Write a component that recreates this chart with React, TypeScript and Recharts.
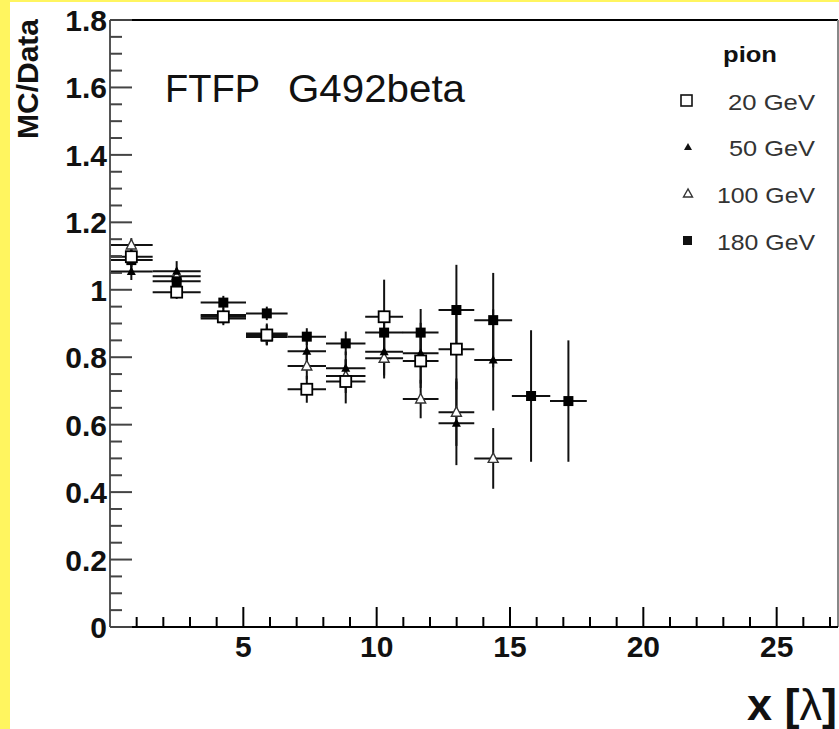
import React from 'react';
import { ScatterChart, Scatter, XAxis, YAxis, ErrorBar, ReferenceLine } from 'recharts';

// Bin centres (x in λ) and half widths
const binCenters = [0.8, 2.5, 4.25, 5.88, 7.38, 8.84, 10.28, 11.65, 12.99, 14.37, 15.79, 17.19];
const binHalfWidths = [0.8, 0.9, 0.85, 0.78, 0.72, 0.74, 0.71, 0.67, 0.67, 0.71, 0.72, 0.69];

// MC/Data ratios per beam energy (null = no point)
const pion20 = [1.098, 0.993, 0.92, 0.866, 0.705, 0.728, 0.92, 0.789, 0.824, null, null, null];
const pion20Err = [0.03, 0.02, 0.02, 0.03, 0.04, 0.065, 0.11, 0.08, 0.12, null, null, null];
const pion50 = [1.054, 1.055, 0.925, 0.87, 0.818, 0.767, 0.816, 0.812, 0.604, 0.792, null, null];
const pion50Err = [0.025, 0.03, 0.02, 0.03, 0.04, 0.05, 0.07, 0.09, 0.124, 0.15, null, null];
const pion100 = [1.133, 1.04, 0.915, 0.86, 0.774, 0.744, 0.797, 0.676, 0.637, 0.5, null, null];
const pion100Err = [0.02, 0.025, 0.02, 0.025, 0.04, 0.05, 0.06, 0.057, 0.1, 0.09, null, null];
const pion180 = [1.088, 1.025, 0.962, 0.93, 0.861, 0.841, 0.873, 0.873, 0.94, 0.91, 0.685, 0.67];
const pion180Err = [0.03, 0.02, 0.02, 0.02, 0.025, 0.035, 0.05, 0.07, 0.134, 0.14, 0.195, 0.18];

// Axis ticks
const xTicks = [1, 2, 3, 4, 5, 6, 7, 8, 9, 10, 11, 12, 13, 14, 15, 16, 17, 18, 19, 20, 21, 22, 23, 24, 25, 26, 27];
const yTicks = [0, 0.05, 0.1, 0.15, 0.2, 0.25, 0.3, 0.35, 0.4, 0.45, 0.5, 0.55, 0.6, 0.65, 0.7, 0.75, 0.8, 0.85, 0.9, 0.95, 1, 1.05, 1.1, 1.15, 1.2, 1.25, 1.3, 1.35, 1.4, 1.45, 1.5, 1.55, 1.6, 1.65, 1.7, 1.75, 1.8];
const xLabelTicks = [5, 10, 15, 20, 25];
const yLabelTicks = [0, 0.2, 0.4, 0.6, 0.8, 1, 1.2, 1.4, 1.6, 1.8];

const legendTitle = 'pion';
const legendLabels = ['20 GeV', '50 GeV', '100 GeV', '180 GeV'];

function build(values: (number | null)[], errs: (number | null)[]) {
  return binCenters
    .map((x, i) => ({ x, y: values[i], ex: binHalfWidths[i], ey: errs[i] }))
    .filter((d) => d.y !== null);
}

const s20 = build(pion20, pion20Err);
const s50 = build(pion50, pion50Err);
const s100 = build(pion100, pion100Err);
const s180 = build(pion180, pion180Err);

const FONT = '"Liberation Sans", Arial, Helvetica, sans-serif';

const openSquare = (p: any) => (
  <rect x={p.cx - 5.5} y={p.cy - 5.5} width={11} height={11} fill="#fff" stroke="#000" strokeWidth={1.8} />
);
const filledSquare = (p: any) => (
  <rect x={p.cx - 5} y={p.cy - 5} width={10} height={10} fill="#000" />
);
const filledTri = (p: any) => (
  <polygon points={`${p.cx},${p.cy - 5} ${p.cx - 4.5},${p.cy + 3.5} ${p.cx + 4.5},${p.cy + 3.5}`} fill="#000" />
);
const openTri = (p: any) => (
  <polygon
    points={`${p.cx},${p.cy - 5.5} ${p.cx - 5},${p.cy + 4} ${p.cx + 5},${p.cy + 4}`}
    fill="#fff"
    stroke="#333"
    strokeWidth={1.4}
  />
);

const XTick = (props: any) => {
  const { x, y, payload } = props;
  const v = payload.value;
  const major = xLabelTicks.includes(v);
  return (
    <g>
      <line x1={x} y1={y} x2={x} y2={y - (major ? 20 : 10)} stroke="#000" strokeWidth={2} />
      {major && (
        <text x={x} y={y + 30} textAnchor="middle" fontFamily={FONT} fontWeight="bold" fontSize={30} fill="#111">
          {v}
        </text>
      )}
    </g>
  );
};

const YTick = (props: any) => {
  const { x, y, payload } = props;
  const v = payload.value;
  const major = yLabelTicks.some((t) => Math.abs(t - v) < 1e-6);
  return (
    <g>
      <line x1={x} y1={y} x2={x + (major ? 22 : 12)} y2={y} stroke="#444" strokeWidth={2} />
      {major && (
        <text x={x - 3} y={y + 11} textAnchor="end" fontFamily={FONT} fontWeight="bold" fontSize={30} fill="#111">
          {String(v)}
        </text>
      )}
    </g>
  );
};

const errProps = { width: 0, stroke: '#111', strokeWidth: 2 } as any;

export default function App() {
  return (
    <div style={{ position: 'fixed', left: 0, top: 0, width: 839, height: 729, background: '#fff', overflow: 'hidden' }}>
      <div style={{ position: 'absolute', left: 0, top: 0, width: 10, height: 729, background: '#fff55f' }} />
      <div style={{ position: 'absolute', left: 0, top: 0, width: 839, height: 2, background: '#fff55f' }} />
      <div style={{ position: 'absolute', left: 0, top: 0 }}>
        <ScatterChart width={839} height={729} margin={{ top: 20, right: 1, bottom: 0, left: 10 }}>
          <XAxis
            type="number"
            dataKey="x"
            domain={[0, 27.3]}
            ticks={xTicks}
            interval={0}
            tick={<XTick />}
            tickSize={0}
            tickMargin={0}
            tickLine={false}
            axisLine={{ stroke: '#000', strokeWidth: 2 }}
            height={102}
            allowDataOverflow
          />
          <YAxis
            type="number"
            dataKey="y"
            domain={[0, 1.8]}
            ticks={yTicks}
            interval={0}
            tick={<YTick />}
            tickSize={0}
            tickMargin={0}
            tickLine={false}
            axisLine={{ stroke: '#555', strokeWidth: 2 }}
            width={100}
            allowDataOverflow
          />
          <ReferenceLine y={1.8} stroke="#000" strokeWidth={2} />
          <ReferenceLine x={27.3} stroke="#888" strokeWidth={2} />
          <Scatter data={s100} shape={openTri} isAnimationActive={false}>
            <ErrorBar dataKey="ey" direction="y" {...errProps} />
            <ErrorBar dataKey="ex" direction="x" {...errProps} />
          </Scatter>
          <Scatter data={s50} shape={filledTri} isAnimationActive={false}>
            <ErrorBar dataKey="ey" direction="y" {...errProps} />
            <ErrorBar dataKey="ex" direction="x" {...errProps} />
          </Scatter>
          <Scatter data={s180} shape={filledSquare} isAnimationActive={false}>
            <ErrorBar dataKey="ey" direction="y" {...errProps} />
            <ErrorBar dataKey="ex" direction="x" {...errProps} />
          </Scatter>
          <Scatter data={s20} shape={openSquare} isAnimationActive={false}>
            <ErrorBar dataKey="ey" direction="y" {...errProps} />
            <ErrorBar dataKey="ex" direction="x" {...errProps} />
          </Scatter>
        </ScatterChart>
      </div>
      <svg width={839} height={729} style={{ position: 'absolute', left: 0, top: 0, pointerEvents: 'none' }}>
        <text
          transform="translate(38,19) rotate(-90)"
          textAnchor="end"
          fontFamily={FONT}
          fontWeight="bold"
          fontSize={30}
          fill="#111"
        >
          MC/Data
        </text>
        <text x={837} y={720} textAnchor="end" fontFamily={FONT} fontWeight="bold" fontSize={45} fill="#111">
          x [<tspan fontWeight="normal">λ</tspan>]
        </text>
        <text x={165} y={102} fontFamily={FONT} fontSize={38} fill="#111">
          FTFP
        </text>
        <text x={288} y={102} fontFamily={FONT} fontSize={38} fill="#111" textLength={177} lengthAdjust="spacingAndGlyphs">
          G492beta
        </text>
        <text x={723} y={62} fontFamily={FONT} fontWeight="bold" fontSize={22} fill="#111" textLength={54} lengthAdjust="spacingAndGlyphs">
          {legendTitle}
        </text>
        {/* legend markers */}
        <rect x={681} y={95} width={11} height={11} fill="#fff" stroke="#111" strokeWidth={1.6} />
        <polygon points="688,143 684,150 692,150" fill="#111" />
        <polygon points="688,189 683.5,197 692.5,197" fill="#fff" stroke="#333" strokeWidth={1.4} />
        <rect x={683} y={236} width={9} height={9} fill="#111" />
        <text x={815} y={110} textAnchor="end" fontFamily={FONT} fontSize={22} fill="#333" textLength={87} lengthAdjust="spacingAndGlyphs">
          {legendLabels[0]}
        </text>
        <text x={815} y={156} textAnchor="end" fontFamily={FONT} fontSize={22} fill="#333" textLength={86} lengthAdjust="spacingAndGlyphs">
          {legendLabels[1]}
        </text>
        <text x={815} y={203} textAnchor="end" fontFamily={FONT} fontSize={22} fill="#333" textLength={98} lengthAdjust="spacingAndGlyphs">
          {legendLabels[2]}
        </text>
        <text x={815} y={250} textAnchor="end" fontFamily={FONT} fontSize={22} fill="#333" textLength={98} lengthAdjust="spacingAndGlyphs">
          {legendLabels[3]}
        </text>
      </svg>
    </div>
  );
}
